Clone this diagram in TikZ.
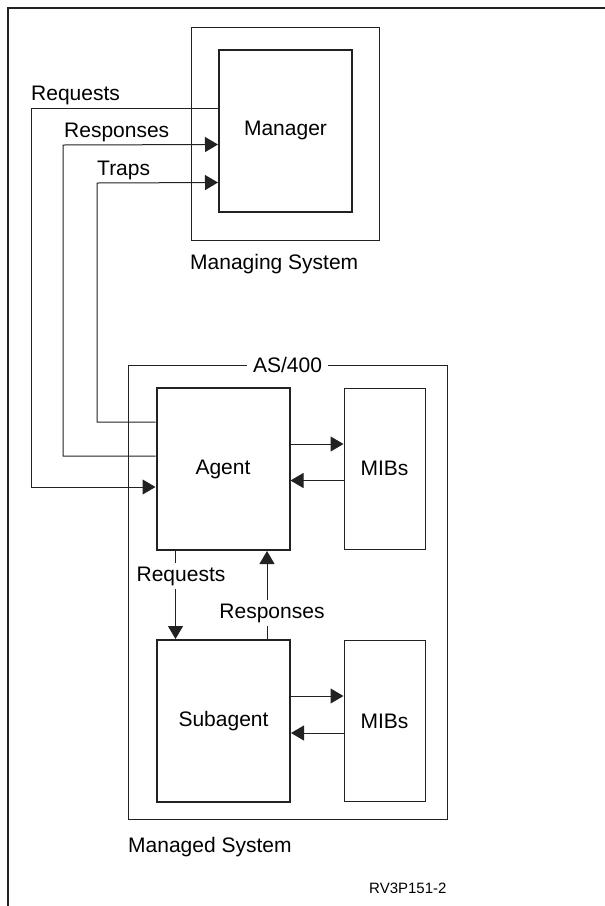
\documentclass[tikz,border=0pt]{standalone}
\usepackage{fontspec}
\setmainfont{Liberation Sans}
\usetikzlibrary{arrows.meta, positioning}

\definecolor{LineGrey}{HTML}{222222}

\tikzset{
    % outline boxes for the two systems
    system box/.style={
        rectangle,
        draw=LineGrey,
        line width=1pt,
        inner sep=0pt
    },
    % heavy boxes for the SNMP components
    component/.style={
        rectangle,
        draw=LineGrey,
        line width=2pt,
        inner sep=0pt,
        minimum width=133pt,
        minimum height=162pt,
        align=center,
        font=\fontsize{21}{25}\selectfont
    },
    mib box/.style={
        rectangle,
        draw=LineGrey,
        line width=1pt,
        inner sep=0pt,
        minimum width=81pt,
        minimum height=161pt,
        font=\fontsize{21}{25}\selectfont
    },
    caption/.style={
        inner sep=0pt,
        anchor=base west,
        font=\fontsize{21}{25}\selectfont
    },
    flow label/.style={
        fill=white,
        inner sep=4pt,
        font=\fontsize{21}{25}\selectfont
    },
    arrow style/.style={
        -{Triangle[length=13pt,width=15pt]},
        line width=1pt,
        LineGrey
    }
}

\begin{document}
\begin{tikzpicture}[x=1pt, y=-1pt]
    \useasboundingbox (0,0) rectangle (605,906);

    % page frame
    \draw[line width=1.5pt, LineGrey] (8,906) -- (8,8) -- (605,8);

    % managing system
    \node[system box, minimum width=188pt, minimum height=213pt] (managing) at (285,133.5) {};
    \node[component] (manager) at (285.5,130.5) {Manager};
    \node[caption] (managingtxt) at (190,269) {Managing System};

    % managed system
    \node[system box, minimum width=319pt, minimum height=454pt] (as400) at (287.5,592) {};
    \node[component] (agent) at (223,469) {Agent};
    \node[mib box] (mibs1) at (384.5,468.5) {MIBs};
    \node[component] (subagent) at (223.5,721) {Subagent};
    \node[mib box] (mibs2) at (384.5,721) {MIBs};
    \node[flow label, inner sep=6pt] (as400txt) at (as400.north) {AS/400};
    \node[caption] (managedtxt) at (128,852) {Managed System};
    \node[caption, font=\fontsize{15}{18}\selectfont] (figid) at (369,893) {RV3P151-2};

    % manager <-> agent
    \draw[arrow style] ([yshift=22pt]manager.west) -| (31,487) -- ([yshift=-18pt]agent.west);
    \draw[arrow style] ([yshift=13pt]agent.west) -| (63,145) -- ([yshift=-14pt]manager.west);
    \draw[arrow style] ([yshift=47pt]agent.west) -| (97,183) -- ([yshift=-52pt]manager.west);
    \node[caption] (reqtxt) at (31,100) {Requests};
    \node[caption] (resptxt) at (64,137) {Responses};
    \node[caption] (trapstxt) at (97,175) {Traps};

    % agent <-> MIBs
    \draw[arrow style] ([yshift=25pt]agent.east) -- ([yshift=25pt]agent.east -| mibs1.west);
    \draw[arrow style] ([yshift=-12pt]mibs1.west) -- ([yshift=-12pt]mibs1.west -| agent.east);

    % subagent <-> MIBs
    \draw[arrow style] ([yshift=25pt]subagent.east) -- ([yshift=25pt]subagent.east -| mibs2.west);
    \draw[arrow style] ([yshift=-12pt]mibs2.west) -- ([yshift=-12pt]mibs2.west -| subagent.east);

    % agent <-> subagent
    \draw[arrow style] ([xshift=20pt]agent.south west) -- ([xshift=20pt]agent.south west |- subagent.north);
    \draw[arrow style] ([xshift=-24pt]subagent.north east) -- ([xshift=-24pt]subagent.north east |- agent.south);
    \node[flow label] (subreqtxt) at (181,576) {Requests};
    \node[flow label] (subresptxt) at (272,613) {Responses};
\end{tikzpicture}
\end{document}
